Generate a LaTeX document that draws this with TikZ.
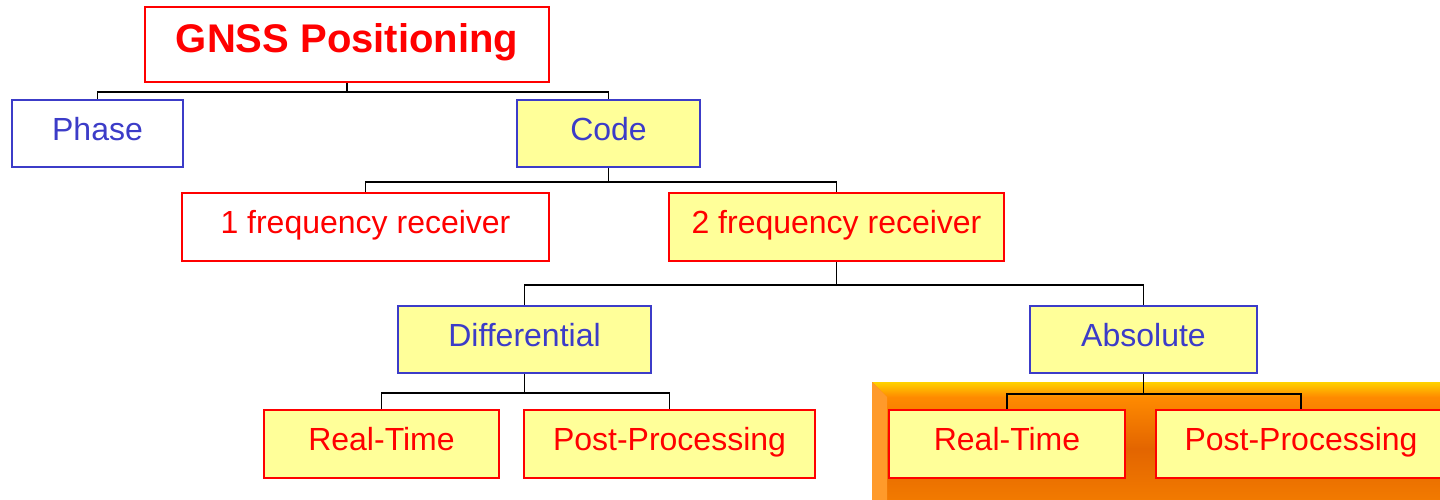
\documentclass[tikz,border=0pt]{standalone}
\usepackage{fontspec}
\setmainfont{Liberation Sans}
\usetikzlibrary{calc}
\definecolor{boxred}{HTML}{FF0000}
\definecolor{boxblue}{HTML}{3C3CC8}
\definecolor{boxyellow}{HTML}{FFFF99}
\definecolor{orA}{HTML}{FFD200}
\definecolor{orB}{HTML}{FF8A00}
\definecolor{orC}{HTML}{E36500}
\definecolor{orD}{HTML}{F27A00}
\definecolor{orL}{HTML}{FF9A2A}
\tikzset{
  box/.style={draw, line width=1.8pt, inner sep=0pt, font=\fontsize{32}{36}\selectfont,
              text height=23pt, text depth=10pt},
  redbox/.style={box, draw=boxred, text=boxred, fill=white},
  bluebox/.style={box, draw=boxblue, text=boxblue, fill=white},
  hi/.style={fill=boxyellow},
  link/.style={draw=black, line width=1.8pt},
}
\begin{document}
\begin{tikzpicture}[x=1pt,y=-1pt]
\useasboundingbox (0,0) rectangle (1440,500);

% bevelled orange panel behind the last pair of boxes
\fill[orD] (872,382) rectangle (1440,500);
\shade[top color=orB, bottom color=orD, middle color=orC] (887,397) rectangle (1440,500);
\shade[top color=orA, bottom color=orB] (872,382) -- (1440,382) -- (1440,397) -- (887,397) -- cycle;
\fill[orL] (872,382) -- (887,397) -- (887,500) -- (872,500) -- cycle;

% boxes
\node[redbox, minimum width=404pt, minimum height=75pt,
      font=\fontsize{40}{44}\selectfont\bfseries, text height=29pt, text depth=12pt]
      (gnss) at (347,44.5) {GNSS Positioning};
\node[bluebox, minimum width=171pt, minimum height=67pt] (phase) at (97.5,133.5) {Phase};
\node[bluebox, hi, minimum width=183pt, minimum height=67pt] (code) at (608.5,133.5) {Code};
\node[redbox, minimum width=367pt, minimum height=68pt] (f1) at (365.5,227) {1 frequency receiver};
\node[redbox, hi, minimum width=335pt, minimum height=68pt] (f2) at (836.5,227) {2 frequency receiver};
\node[bluebox, hi, minimum width=253pt, minimum height=67pt] (diff) at (524.5,339.5) {Differential};
\node[bluebox, hi, minimum width=227pt, minimum height=67pt] (abs) at (1143.5,339.5) {Absolute};
\node[redbox, hi, minimum width=235pt, minimum height=68pt] (rt1) at (381.5,444) {Real-Time};
\node[redbox, hi, minimum width=291pt, minimum height=68pt] (pp1) at (669.5,444) {Post-Processing};
\node[redbox, hi, minimum width=236pt, minimum height=68pt] (rt2) at (1007,444) {Real-Time};
\node[redbox, hi, minimum width=290pt, minimum height=68pt] (pp2) at (1301,444) {Post-Processing};

% tree connectors
\coordinate (j1) at ($(gnss.south)+(0,9)$);
\draw[link] (gnss.south) -- (j1) (j1) -| (phase.north) (j1) -| (code.north);
\coordinate (j2) at ($(code.south)+(0,14)$);
\draw[link] (code.south) -- (j2) (j2) -| (f1.north) (j2) -| (f2.north);
\coordinate (j3) at ($(f2.south)+(0,23)$);
\draw[link] (f2.south) -- (j3) (j3) -| (diff.north) (j3) -| (abs.north);
\coordinate (j4) at ($(diff.south)+(0,19)$);
\draw[link] (diff.south) -- (j4) (j4) -| (rt1.north) (j4) -| (pp1.north);
\coordinate (j5) at ($(abs.south)+(0,20)$);
\draw[link] (abs.south) -- (j5) (j5) -| (rt2.north) (j5) -| (pp2.north);
\end{tikzpicture}
\end{document}
